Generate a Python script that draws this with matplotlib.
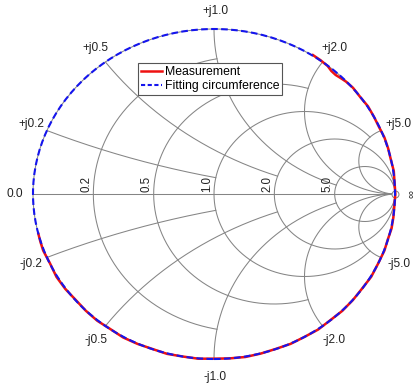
import numpy as np
import matplotlib
matplotlib.use('Agg')
import matplotlib.pyplot as plt
from matplotlib.patches import Circle

plt.rcParams['font.family'] = ['Liberation Sans', 'DejaVu Sans']

# ---- Smith chart grid values ----
r_values = [0.2, 0.5, 1.0, 2.0, 5.0]
r_span_x = [1.0, 2.0, 5.0, np.inf, np.inf]      # each resistance circle spans |x| <= this
x_values = [0.2, 0.5, 1.0, 2.0, 5.0]
x_span_r = [1.0, 2.0, 5.0, np.inf, np.inf]      # each reactance arc spans r <= this
r_labels = ['0.2', '0.5', '1.0', '2.0', '5.0']
x_labels_pos = ['+j0.2', '+j0.5', '+j1.0', '+j2.0', '+j5.0']
x_labels_neg = ['-j0.2', '-j0.5', '-j1.0', '-j2.0', '-j5.0']

# ---- Measurement (S11 magnitude / angle in degrees) ----
meas_angle = [57, 54, 51, 49, 47, 45, 43, 40,
              36, 32, 28, 24, 20, 16, 12, 8, 4, 0,
              -4, -8, -12, -16, -20,
              -25, -30, -35, -40, -45, -50, -55, -60, -65, -70,
              -75, -80, -85, -90, -95, -100, -105, -110, -115, -120,
              -125, -130, -135, -140, -145, -150, -155, -160,
              -163, -166]
meas_mag = [1.004, 1.002, 0.998, 0.988, 0.986, 0.992, 0.998, 1.002,
            0.999, 1.003, 1.000, 0.998, 1.002, 1.001, 0.999, 1.003, 1.000, 1.002,
            0.999, 1.001, 1.003, 0.999, 1.002,
            1.000, 1.003, 0.999, 1.001, 1.002, 0.999, 1.003, 1.000, 1.002, 0.999,
            1.001, 1.003, 1.000, 0.998, 1.002, 1.000, 1.003, 0.999, 1.002, 1.004,
            0.999, 1.003, 1.001, 0.998, 1.003, 1.005, 0.999, 1.004,
            1.002, 1.000]

# ---- Fitted circle ----
fit_center = (0.0, 0.0)
fit_radius = 1.0

W, H = 417, 389
fig = plt.figure(figsize=(W / 100, H / 100), dpi=100)
ax = fig.add_axes([0, 0, 1, 1])
cx_px, cy_px, rx_px, ry_px = 214.0, 194.0, 181.0, 165.0
ax.set_xlim(-cx_px / rx_px, (W - cx_px) / rx_px)
ax.set_ylim((cy_px - H) / ry_px, cy_px / ry_px)
ax.set_aspect('auto')
ax.axis('off')

GRID = '#858585'
GLW = 0.75


def gamma(z):
    return (z - 1) / (z + 1)


# unit circle and real axis
t = np.linspace(0, 2 * np.pi, 721)
ax.plot(np.cos(t), np.sin(t), color=GRID, lw=GLW, zorder=1)
ax.plot([-1, 1], [0, 0], color=GRID, lw=GLW, zorder=1)

# resistance circles
for r, xm in zip(r_values, r_span_x):
    c = r / (1 + r)
    R = 1 / (1 + r)
    if np.isinf(xm):
        ph = np.linspace(0, 2 * np.pi, 400)
    else:
        g = gamma(complex(r, xm))
        p0 = np.angle(g - c)
        ph = np.linspace(p0, 2 * np.pi - p0, 400)
    ax.plot(c + R * np.cos(ph), R * np.sin(ph), color=GRID, lw=GLW, zorder=1)

# reactance arcs
for x, rm in zip(x_values, x_span_r):
    cc = complex(1, 1 / x)
    R = 1 / x
    p0 = np.angle(gamma(complex(0, x)) - cc)
    if np.isinf(rm):
        p1 = -np.pi / 2
    else:
        p1 = np.angle(gamma(complex(rm, x)) - cc)
    p0 = np.mod(p0, 2 * np.pi)
    p1 = np.mod(p1, 2 * np.pi)
    if p1 < p0:
        p1 += 2 * np.pi
    ph = np.linspace(p0, p1, 300)
    xs = cc.real + R * np.cos(ph)
    ys = cc.imag + R * np.sin(ph)
    ax.plot(xs, ys, color=GRID, lw=GLW, zorder=1)
    ax.plot(xs, -ys, color=GRID, lw=GLW, zorder=1)

# marker at the open-circuit point
ax.plot([1], [0], marker='o', ms=5, mfc='white', mec=GRID, mew=GLW, zorder=2)

# labels for resistance circles
for r, lab in zip(r_values, r_labels):
    xl = (r - 1) / (r + 1)
    ax.annotate(lab, (xl, 0), xytext=(-1, 2), textcoords='offset pixels',
                rotation=90, ha='right', va='bottom', fontsize=8.3, color='#222222')

# labels around the boundary
OFF = 18
for x, lp, ln in zip(x_values, x_labels_pos, x_labels_neg):
    g = gamma(complex(0, x))
    ang = np.angle(g)
    for gg, lab, s in [(g, lp, 1), (np.conj(g), ln, -1)]:
        ax.annotate(lab, (gg.real, gg.imag),
                    xytext=(OFF * np.cos(ang) + 1, s * OFF * np.sin(ang)),
                    textcoords='offset pixels', ha='center', va='center',
                    fontsize=8.6, color='#222222')
ax.annotate('0.0', (-1, 0), xytext=(-18, 0), textcoords='offset pixels',
            ha='center', va='center', fontsize=8.6, color='#222222')
ax.annotate('\u221e', (1, 0), xytext=(16, 0), textcoords='offset pixels',
            ha='center', va='center', fontsize=8.0, rotation=90, color='#222222')

# measurement
th = np.deg2rad(np.array(meas_angle, float))
mg = np.array(meas_mag, float)
ax.plot(mg * np.cos(th), mg * np.sin(th), color='#ee1111', lw=1.8,
        label='Measurement', zorder=3)

# fitting circumference
fit = Circle(fit_center, fit_radius, fill=False, edgecolor='#1515ee', lw=1.5,
             linestyle=(0, (3.2, 1.6)), zorder=4)
ax.add_patch(fit)
ax.plot([], [], color='#1515ee', lw=1.5, linestyle=(0, (2.0, 1.2)),
        label='Fitting circumference')

leg = ax.legend(loc='upper left', bbox_to_anchor=(138 / W, 1 - 63 / H),
                bbox_transform=fig.transFigure, borderaxespad=0,
                fontsize=8.8, frameon=True, fancybox=False, framealpha=1,
                edgecolor='#555555', handlelength=1.7, handletextpad=0.25,
                borderpad=0.25, labelspacing=0.15)
leg.get_frame().set_linewidth(0.8)
leg.set_zorder(10)

fig.savefig('out.png', dpi=100, facecolor='white')
